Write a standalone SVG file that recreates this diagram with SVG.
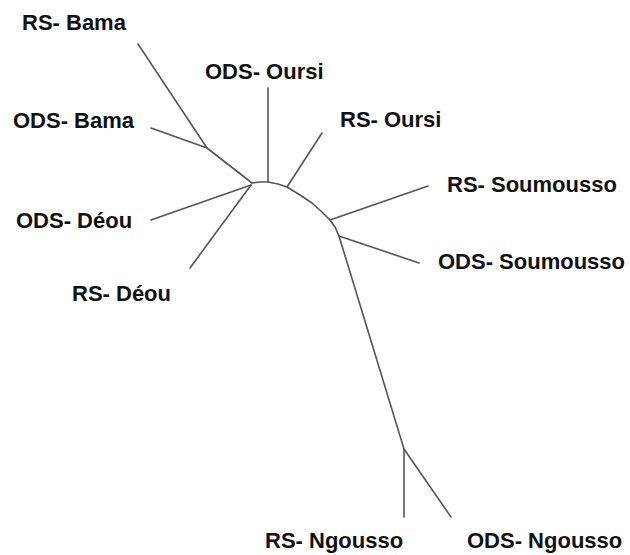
<svg xmlns="http://www.w3.org/2000/svg" width="630" height="555" viewBox="0 0 630 555">
<style>
text{font-family:"Liberation Sans",Arial,sans-serif;font-weight:bold;font-size:22px;fill:#111}
.e{fill:none;stroke:#555;stroke-width:1.6;stroke-linecap:round;stroke-linejoin:round}
</style>
<rect width="630" height="555" fill="#fff"/>
<g id="connectors">
<polyline class="e" points="252,183 260,182 268,182 278,184 287,187 300,195 312,203 322,212 330,220 335,227 339,236"/>
<polyline class="e" points="138,44 207,148 252,183"/>
<line class="e" x1="151" y1="128" x2="207" y2="148"/>
<line class="e" x1="268" y1="88" x2="268" y2="182"/>
<line class="e" x1="151" y1="220" x2="251" y2="185"/>
<line class="e" x1="190" y1="268" x2="251" y2="185"/>
<line class="e" x1="322" y1="133" x2="287" y2="187"/>
<line class="e" x1="330" y1="220" x2="428" y2="186"/>
<line class="e" x1="339" y1="236" x2="419" y2="263"/>
<line class="e" x1="339" y1="236" x2="404" y2="449"/>
<line class="e" x1="404" y1="449" x2="404" y2="517"/>
<line class="e" x1="404" y1="449" x2="451" y2="517"/>
</g>
<g id="rs-bama"><text x="22" y="30">RS- Bama</text></g>
<g id="ods-oursi"><text x="205" y="79">ODS- Oursi</text></g>
<g id="ods-bama"><text x="13" y="128">ODS- Bama</text></g>
<g id="rs-oursi"><text x="340" y="127">RS- Oursi</text></g>
<g id="rs-soumousso"><text x="447" y="192">RS- Soumousso</text></g>
<g id="ods-deou"><text x="16" y="228">ODS- Déou</text></g>
<g id="ods-soumousso"><text x="438" y="269">ODS- Soumousso</text></g>
<g id="rs-deou"><text x="72" y="301">RS- Déou</text></g>
<g id="rs-ngousso"><text x="265" y="548">RS- Ngousso</text></g>
<g id="ods-ngousso"><text x="467" y="548">ODS- Ngousso</text></g>
</svg>
